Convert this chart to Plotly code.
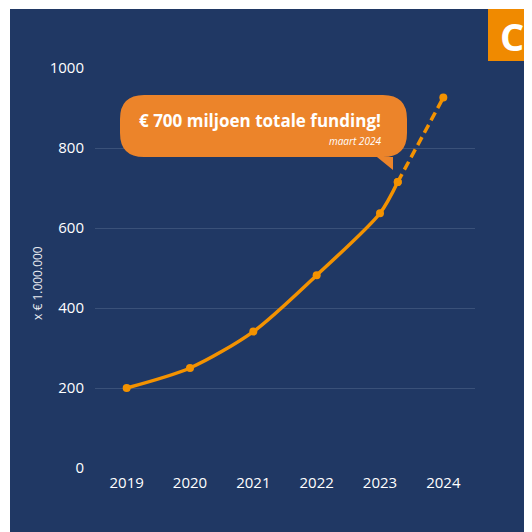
import plotly.graph_objects as go

# ---- data ----
years_solid = [2019, 2020, 2021, 2022, 2023, 2023.28]
values_solid = [200, 250, 341, 482, 637, 715]
years_dash = [2023.28, 2024]
values_dash = [715, 926]
tick_years = [2019, 2020, 2021, 2022, 2023, 2024]
tick_labels = ["2019", "2020", "2021", "2022", "2023", "2024"]
y_ticks = [0, 200, 400, 600, 800, 1000]
callout_title = "€ 700 miljoen totale funding!"
callout_sub = "maart 2024"
y_title = "x € 1.000.000"

NAVY = "#203864"
ORANGE = "#F39200"
BUBBLE = "#EC842A"
FONT = "Open Sans"

W, H = 532, 532
OFF = 8  # page body margin
L, R, T, B = 87, 65, 60, 72
PW, PH = W - L - R, H - T - B

def px(xs):
    return (xs - OFF - L) / PW

def py(ys):
    return (H - B - (ys - OFF)) / PH

fig = go.Figure()
fig.add_trace(go.Scatter(
    x=years_solid, y=values_solid, mode="lines+markers",
    line=dict(color=ORANGE, width=3.5, shape="spline", smoothing=0.8),
    marker=dict(color=ORANGE, size=8), cliponaxis=False, hoverinfo="skip"))
fig.add_trace(go.Scatter(
    x=years_dash, y=values_dash, mode="lines+markers",
    line=dict(color=ORANGE, width=3.5, dash="9px,5px"),
    marker=dict(color=ORANGE, size=8), cliponaxis=False, hoverinfo="skip"))

def P(x, y):
    return f"{px(x):.5f},{py(y):.5f}"

x0, x1, y0, y1, r = 120, 407, 95, 157, 24
path = (f"M {P(x0 + r, y0)} L {P(x1 - r, y0)} Q {P(x1, y0)} {P(x1, y0 + r)} "
        f"L {P(x1, y1 - r)} Q {P(x1, y1)} {P(x1 - r, y1)} "
        f"L {P(393, y1)} L {P(393, 170)} L {P(377, y1)} "
        f"L {P(x0 + r, y1)} Q {P(x0, y1)} {P(x0, y1 - r)} "
        f"L {P(x0, y0 + r)} Q {P(x0, y0)} {P(x0 + r, y0)} Z")

shapes = [
    dict(type="path", xref="paper", yref="paper", path=path,
         fillcolor=BUBBLE, line=dict(width=0), layer="above"),
    dict(type="rect", xref="paper", yref="paper", x0=px(0), x1=px(W + OFF), y0=py(9), y1=py(0),
         fillcolor="white", line=dict(width=0), layer="above"),
    dict(type="rect", xref="paper", yref="paper", x0=px(0), x1=px(10), y0=py(H + OFF), y1=py(0),
         fillcolor="white", line=dict(width=0), layer="above"),
    dict(type="rect", xref="paper", yref="paper", x0=px(488), x1=px(W + OFF), y0=py(61), y1=py(9),
         fillcolor="#F08A00", line=dict(width=0), layer="above"),
]

annotations = [
    dict(xref="paper", yref="paper", x=px(383), y=py(120), xanchor="right", yanchor="middle",
         text=f"<b>{callout_title}</b>", showarrow=False,
         font=dict(family=FONT, size=17, color="white")),
    dict(xref="paper", yref="paper", x=px(383), y=py(141), xanchor="right", yanchor="middle",
         text=f"<i>{callout_sub}</i>", showarrow=False,
         font=dict(family=FONT, size=10, color="white")),
    dict(xref="paper", yref="paper", x=px(37), y=py(283), xanchor="center", yanchor="middle",
         text=y_title, textangle=-90, showarrow=False,
         font=dict(family=FONT, size=12, color="#e8ebf0")),
    dict(xref="paper", yref="paper", x=px(512), y=py(36), xanchor="center", yanchor="middle",
         text="<b>C</b>", showarrow=False,
         font=dict(family=FONT, size=38, color="white")),
]

fig.update_layout(
    width=W, height=H, margin=dict(l=L, r=R, t=T, b=B, pad=0),
    paper_bgcolor=NAVY, plot_bgcolor=NAVY, showlegend=False,
    shapes=shapes, annotations=annotations,
    font=dict(family=FONT, color="white"),
    xaxis=dict(range=[2018.5, 2024.5], tickvals=tick_years, ticktext=tick_labels,
               showgrid=False, zeroline=False, showline=False, ticks="",
               tickfont=dict(family=FONT, size=15, color="white", weight=500),
               ticklabelstandoff=4, fixedrange=True),
    yaxis=dict(range=[0, 1000], tickvals=y_ticks, showgrid=True,
               gridcolor="#3a5179", gridwidth=1, zeroline=False, showline=False, ticks="",
               tickfont=dict(family=FONT, size=15, color="white", weight=500),
               ticklabelstandoff=10, fixedrange=True),
)

fig.write_html("out.html", config={"displayModeBar": False})
